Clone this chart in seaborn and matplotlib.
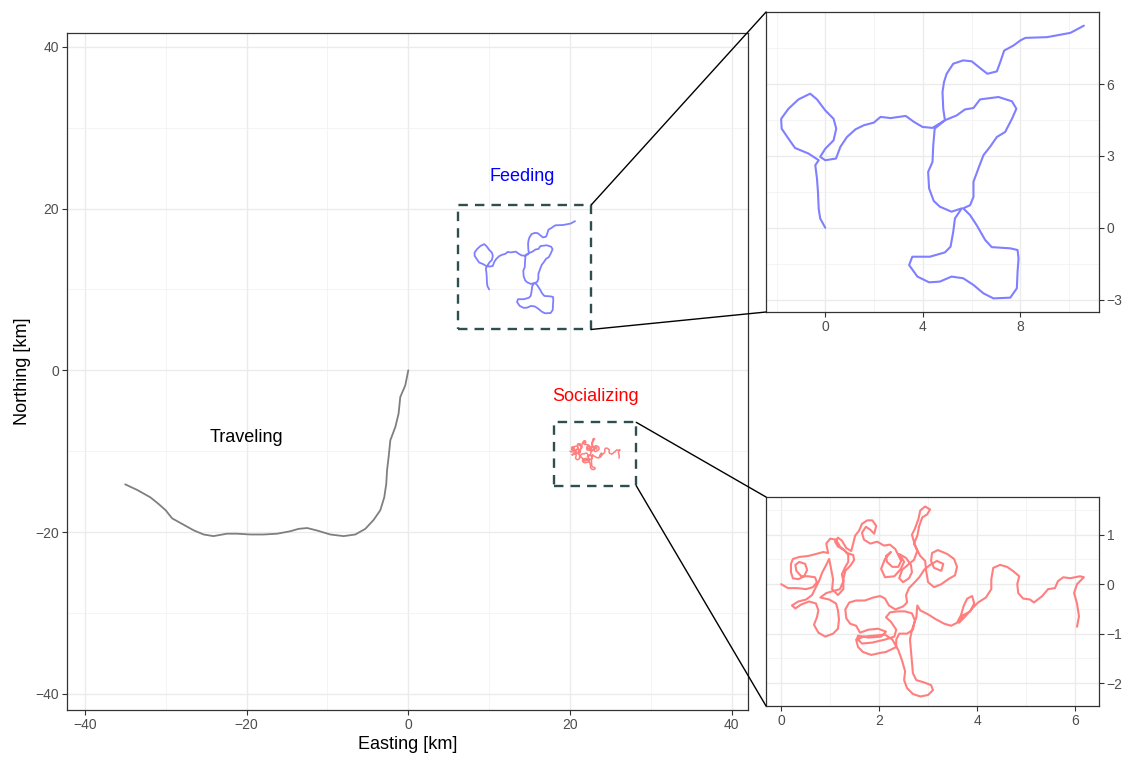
import numpy as np
import pandas as pd
import matplotlib
matplotlib.use("Agg")
import matplotlib.pyplot as plt
import seaborn as sns
from matplotlib.patches import Rectangle, ConnectionPatch
from matplotlib.ticker import MultipleLocator, FixedLocator

# ---------------- data (km) ----------------
travel_x = [0, -0.37, -0.99, -1.2, -1.6, -2.22, -2.43, -2.63, -2.72, -2.97, -3.46, -4.29, -5.31,
            -6.55, -8.0, -9.64, -11.3, -12.5, -13.55, -14.6, -16.2, -17.9, -19.5, -21.2, -22.4,
            -24.1, -25.3, -26.5, -28.4, -29.2, -30.0, -30.9, -31.9, -33.5, -35.0]
travel_y = [0, -1.85, -3.3, -5.35, -7.0, -8.65, -10.7, -12.4, -14.0, -15.7, -17.3, -18.5, -19.6,
            -20.3, -20.5, -20.3, -19.8, -19.5, -19.6, -19.9, -20.2, -20.3, -20.3, -20.2, -20.2,
            -20.5, -20.3, -19.8, -18.75, -18.3, -17.3, -16.5, -15.7, -14.8, -14.1]

feed_x = [0, -0.21, -0.27, -0.30, -0.34, -0.41, -0.27, -0.69, -1.24, -1.51, -1.79, -1.81, -1.51,
          -1.10, -0.62, -0.34, 0, 0.34, 0.45, 0.34, 0, -0.21, 0, 0.44, 0.62, 0.89, 1.24, 1.58,
          1.99, 2.27, 2.68, 3.30, 3.64, 3.99, 4.40, 4.91,
          4.49, 4.43, 4.40, 4.22, 4.26, 4.45, 4.70, 5.18, 5.60,
          5.32, 5.25, 5.14, 4.91, 4.29, 3.99, 3.57, 3.44, 3.78, 4.26, 4.70, 5.18, 5.66, 6.08,
          6.49, 6.90, 7.59, 7.86, 7.89, 7.93, 7.89, 7.59, 6.83, 6.56, 6.21, 5.94, 5.66, 5.94,
          6.08, 6.08, 6.28, 6.49, 6.76, 7.04, 7.38, 7.66, 7.84, 7.66, 7.11, 6.35, 6.08, 5.73,
          5.39, 4.91,
          4.84, 4.81, 4.87, 4.98, 5.25, 5.66, 6.01, 6.35, 6.65, 7.04, 7.18, 7.34, 7.72, 8.0,
          8.21, 9.10, 10.06, 10.61]
feed_y = [0, 0.39, 0.80, 1.5, 2.05, 2.61, 2.82, 3.10, 3.33, 3.72, 4.14, 4.55, 4.97,
          5.36, 5.60, 5.36, 4.90, 4.55, 4.14, 3.65, 3.30, 2.96, 2.82, 2.89, 3.38, 3.79, 4.11, 4.28,
          4.39, 4.63, 4.58, 4.67, 4.42, 4.21, 4.17, 4.49,
          4.14, 3.44, 2.75, 2.33, 1.64, 1.12, 0.88, 0.67, 0.81,
          0.39, -0.17, -0.79, -1.03, -1.21, -1.21, -1.21, -1.56, -2.04, -2.28, -2.25, -2.04, -2.11, -2.39,
          -2.74, -2.95, -2.92, -2.53, -1.83, -1.28, -0.93, -0.86, -0.81, -0.51, 0.11, 0.53, 0.81, 0.94,
          1.29, 1.92, 2.47, 3.03, 3.38, 3.79, 4.0, 4.55, 4.97, 5.28, 5.46, 5.36, 5.0, 4.94,
          4.69, 4.49,
          4.97, 5.67, 6.08, 6.43, 6.85, 6.99, 6.95, 6.67, 6.43, 6.53, 6.92, 7.40, 7.61, 7.82,
          7.93, 7.96, 8.14, 8.44]

social_x = [0.00, 0.14, 0.33, 0.51, 0.65, 0.73, 0.69, 0.55, 0.41, 0.31, 0.29, 0.37, 0.49, 0.53,
            0.47, 0.35, 0.24, 0.20, 0.20, 0.24, 0.37, 0.55, 0.71, 0.86, 0.96,
            0.92, 1.00, 1.12, 1.20, 1.35, 1.47, 1.49, 1.41, 1.31, 1.27, 1.27, 1.16, 1.04, 1.06, 1.02,
            0.98, 0.92, 0.84,
            0.78, 0.69, 0.63, 0.51, 0.35, 0.22, 0.29, 0.41, 0.57, 0.71, 0.76, 0.73, 0.67, 0.76,
            0.90, 1.06, 1.16, 1.18, 1.16, 1.12, 0.98, 0.80, 0.92, 1.06, 1.20, 1.27, 1.24, 1.31,
            1.37, 1.37, 1.29, 1.16, 1.10, 1.16, 1.24, 1.33, 1.43, 1.47, 1.51, 1.59, 1.65, 1.76,
            1.86, 1.94, 1.90,
            1.82, 1.73, 1.65, 1.69, 1.82,
            1.96, 2.10, 2.22, 2.33, 2.39, 2.45, 2.39, 2.27, 2.16, 2.14, 2.24,
            2.12, 2.04, 2.12, 2.31, 2.43, 2.51,
            2.41, 2.55, 2.65, 2.67, 2.61, 2.49, 2.41, 2.47, 2.61, 2.71, 2.78, 2.71, 2.67, 2.73,
            2.80, 2.84, 2.94, 3.04, 2.98, 2.88, 2.82, 2.78, 2.71, 2.84, 2.94, 2.96, 3.00, 3.12,
            3.27, 3.41, 3.55, 3.59, 3.53, 3.39, 3.20, 3.08, 3.06, 3.12, 3.27, 3.31, 3.18, 3.04,
            2.92, 2.82, 2.69, 2.61, 2.55, 2.57, 2.49, 2.33, 2.20, 2.12, 2.02, 1.88, 1.71, 1.53,
            1.39, 1.31, 1.33, 1.41, 1.53, 1.61,
            1.78, 1.98, 2.14, 2.04, 1.78, 1.57,
            1.55, 1.65, 1.86, 2.12, 2.31, 2.35, 2.24, 2.14,
            2.22, 2.37, 2.53, 2.67, 2.73, 2.69, 2.57, 2.41, 2.35, 2.35, 2.14, 2.02, 1.84, 1.67,
            1.57, 1.53, 1.69, 1.90, 2.12, 2.27, 2.39, 2.47, 2.53, 2.51, 2.57, 2.69, 2.84, 3.00,
            3.10, 3.06, 2.90, 2.76, 2.69, 2.67, 2.65, 2.63, 2.67, 2.76, 2.78, 2.84, 3.00, 3.16,
            3.33, 3.47, 3.59, 3.67, 3.73, 3.80, 3.90, 3.94, 3.86, 3.71, 3.63, 3.76, 3.90, 4.02,
            4.18, 4.29, 4.29, 4.33, 4.47, 4.61, 4.73, 4.86, 4.82, 4.84, 4.94, 5.08, 5.16, 5.33,
            5.45, 5.59, 5.65, 5.76, 5.90, 6.10, 6.18, 6.10, 6.04, 5.98, 6.04, 6.08, 6.04]
social_y = [0.00, -0.08, -0.08, -0.10, -0.06, 0.04, 0.14, 0.16, 0.16, 0.27, 0.39, 0.45, 0.41, 0.29,
            0.16, 0.10, 0.12, 0.24, 0.41, 0.51, 0.55, 0.57, 0.61, 0.65, 0.63,
            0.82, 0.92, 0.90, 0.76, 0.63, 0.59, 0.49, 0.37, 0.27, 0.10, -0.10, -0.22, -0.10, 0.10, 0.31,
            0.51, 0.39, 0.24,
            0.08, -0.10, -0.22, -0.31, -0.35, -0.43, -0.49, -0.41, -0.35, -0.39, -0.53, -0.67, -0.82, -0.98,
            -1.06, -1.00, -0.90, -0.71, -0.53, -0.39, -0.31, -0.27, -0.18, -0.14, -0.10, 0.06, 0.20, 0.35,
            0.45, 0.59, 0.69, 0.76, 0.86, 0.94, 0.88, 0.73, 0.67, 0.82, 0.98, 1.08, 1.22, 1.29,
            1.29, 1.18, 1.02,
            1.10, 1.16, 1.04, 0.90, 0.82,
            0.86, 0.78, 0.80, 0.71, 0.59, 0.47, 0.35, 0.35, 0.45, 0.57, 0.65,
            0.51, 0.31, 0.14, 0.16, 0.29, 0.45,
            0.61, 0.53, 0.39, 0.24, 0.12, 0.04, 0.12, 0.29, 0.41, 0.49, 0.67, 0.86, 1.00, 1.12,
            1.31, 1.49, 1.57, 1.51, 1.41, 1.35, 1.18, 0.98, 0.82, 0.57, 0.47, 0.27, 0.04, -0.06,
            0.00, 0.10, 0.18, 0.35, 0.51, 0.61, 0.69, 0.63, 0.47, 0.33, 0.27, 0.41, 0.47, 0.39,
            0.29, 0.14, 0.00, -0.08, -0.22, -0.37, -0.45, -0.51, -0.43, -0.29, -0.24, -0.27, -0.33, -0.33,
            -0.37, -0.51, -0.69, -0.80, -0.84, -0.98,
            -0.92, -0.90, -0.96, -1.06, -1.08, -1.04,
            -1.10, -1.20, -1.18, -1.12, -1.06, -0.92, -0.76, -0.67,
            -0.57, -0.55, -0.55, -0.59, -0.73, -0.92, -1.00, -1.00, -1.12, -1.27, -1.37, -1.39, -1.43, -1.37,
            -1.27, -1.12, -1.06, -1.04, -1.02, -1.12, -1.33, -1.55, -1.76, -1.94, -2.10, -2.22, -2.27, -2.24,
            -2.14, -2.04, -1.98, -1.94, -1.80, -1.57, -1.33, -1.12, -0.92, -0.67, -0.43, -0.53, -0.61, -0.71,
            -0.80, -0.84, -0.78, -0.63, -0.43, -0.29, -0.24, -0.39, -0.55, -0.63, -0.78, -0.65, -0.49, -0.37,
            -0.27, -0.10, 0.10, 0.33, 0.39, 0.35, 0.27, 0.16, 0.00, -0.18, -0.29, -0.31, -0.37, -0.24,
            -0.10, -0.08, 0.06, 0.14, 0.12, 0.16, 0.14, 0.06, 0.00, -0.18, -0.39, -0.65, -0.86]

feed_offset = (10, 10)
social_offset = (20, -10)

main_ticks = [-40, -20, 0, 20, 40]
feed_xticks = [0, 4, 8]
feed_yticks = [-3, 0, 3, 6]
social_xticks = [0, 2, 4, 6]
social_yticks = [-2, -1, 0, 1]

label_text = ["Feeding", "Socializing", "Traveling"]
label_x = [14.1, 23.1, -20.0]
label_y = [23.9, -3.2, -8.3]
label_colors = ["#0000FF", "#FF0000", "#000000"]

feed_color = "#7F7FFF"
social_color = "#FF7F7F"
travel_color = "#7F7F7F"

# ---------------- style ----------------
sns.set_theme(style="whitegrid", rc={
    "axes.edgecolor": "#333333",
    "axes.linewidth": 0.9,
    "grid.color": "#EBEBEB",
    "grid.linewidth": 1.0,
    "xtick.bottom": True,
    "ytick.left": True,
})
plt.rcParams['font.family'] = ['Liberation Sans', 'DejaVu Sans']

df_travel = pd.DataFrame({"x": travel_x, "y": travel_y})
df_feed = pd.DataFrame({"x": feed_x, "y": feed_y})
df_social = pd.DataFrame({"x": social_x, "y": social_y})
df_feed_main = df_feed.assign(x=df_feed.x + feed_offset[0], y=df_feed.y + feed_offset[1])
df_social_main = df_social.assign(x=df_social.x + social_offset[0], y=df_social.y + social_offset[1])

fig = plt.figure(figsize=(11.33, 7.61), dpi=100)
ax = fig.add_axes([0.0591, 0.0670, 0.6011, 0.8896])
ax1 = fig.add_axes([0.6761, 0.5900, 0.2939, 0.3942])
ax2 = fig.add_axes([0.6761, 0.0723, 0.2939, 0.2746])


def style_axes(a, xt, minor_x, yt, minor_y, right=False):
    a.xaxis.set_major_locator(FixedLocator(xt))
    a.xaxis.set_minor_locator(MultipleLocator(minor_x))
    a.yaxis.set_major_locator(FixedLocator(yt))
    a.yaxis.set_minor_locator(MultipleLocator(minor_y))
    a.grid(which="major", color="#EBEBEB", lw=1.0)
    a.grid(which="minor", color="#F2F2F2", lw=0.6)
    a.set_axisbelow(True)
    for s in a.spines.values():
        s.set_color("#333333")
        s.set_linewidth(0.9)
    a.tick_params(which="major", direction="out", length=3.5, width=0.8, color="#333333",
                  labelsize=10, labelcolor="#4D4D4D", pad=2)
    a.tick_params(which="minor", length=0)
    if right:
        a.yaxis.tick_right()
        a.tick_params(axis="y", which="major", right=True, left=False, direction="out",
                      length=3.5, width=0.8, color="#333333")
    a.set_xlabel("")
    a.set_ylabel("")


# main panel
sns.lineplot(data=df_travel, x="x", y="y", sort=False, estimator=None, color=travel_color,
             lw=1.3, ax=ax)
sns.lineplot(data=df_feed_main, x="x", y="y", sort=False, estimator=None, color=feed_color,
             lw=1.3, ax=ax)
sns.lineplot(data=df_social_main, x="x", y="y", sort=False, estimator=None, color=social_color,
             lw=1.1, ax=ax)
ax.set_xlim(-42.2, 42.0)
ax.set_ylim(-42.0, 41.7)
style_axes(ax, main_ticks, 10, main_ticks, 10)
ax.set_xlabel("Easting [km]", fontsize=13, color="black", labelpad=3)
ax.set_ylabel("Northing [km]", fontsize=13, color="black", labelpad=3)

for t, lx, ly, c in zip(label_text, label_x, label_y, label_colors):
    ax.text(lx, ly, t, color=c, fontsize=13, ha="center", va="center")

# rectangles around the zoomed tracks
rects = []
for d in (df_feed_main, df_social_main):
    x0, x1 = d.x.min() - 2, d.x.max() + 2
    y0, y1 = d.y.min() - 2, d.y.max() + 2
    ax.add_patch(Rectangle((x0, y0), x1 - x0, y1 - y0, fill=False, ec="#2F4F4F", lw=1.7,
                           ls=(0, (4, 3)), zorder=5))
    rects.append((x0, x1, y0, y1))

# insets
sns.lineplot(data=df_feed, x="x", y="y", sort=False, estimator=None, color=feed_color,
             lw=1.5, ax=ax1)
sns.lineplot(data=df_social, x="x", y="y", sort=False, estimator=None, color=social_color,
             lw=1.5, ax=ax2)
for a, d in ((ax1, df_feed), (ax2, df_social)):
    xr = d.x.max() - d.x.min()
    yr = d.y.max() - d.y.min()
    a.set_xlim(d.x.min() - 0.05 * xr, d.x.max() + 0.05 * xr)
    a.set_ylim(d.y.min() - 0.05 * yr, d.y.max() + 0.05 * yr)
style_axes(ax1, feed_xticks, 2, feed_yticks, 1.5, right=True)
style_axes(ax2, social_xticks, 1, social_yticks, 0.5, right=True)

# connector lines
for (x0, x1, y0, y1), a in zip(rects, (ax1, ax2)):
    for yy, fy in ((y1, 1), (y0, 0)):
        con = ConnectionPatch(xyA=(x1, yy), coordsA=ax.transData, xyB=(0, fy),
                              coordsB=a.transAxes, color="black", lw=1.0)
        fig.add_artist(con)

fig.savefig("out.png", dpi=100)
